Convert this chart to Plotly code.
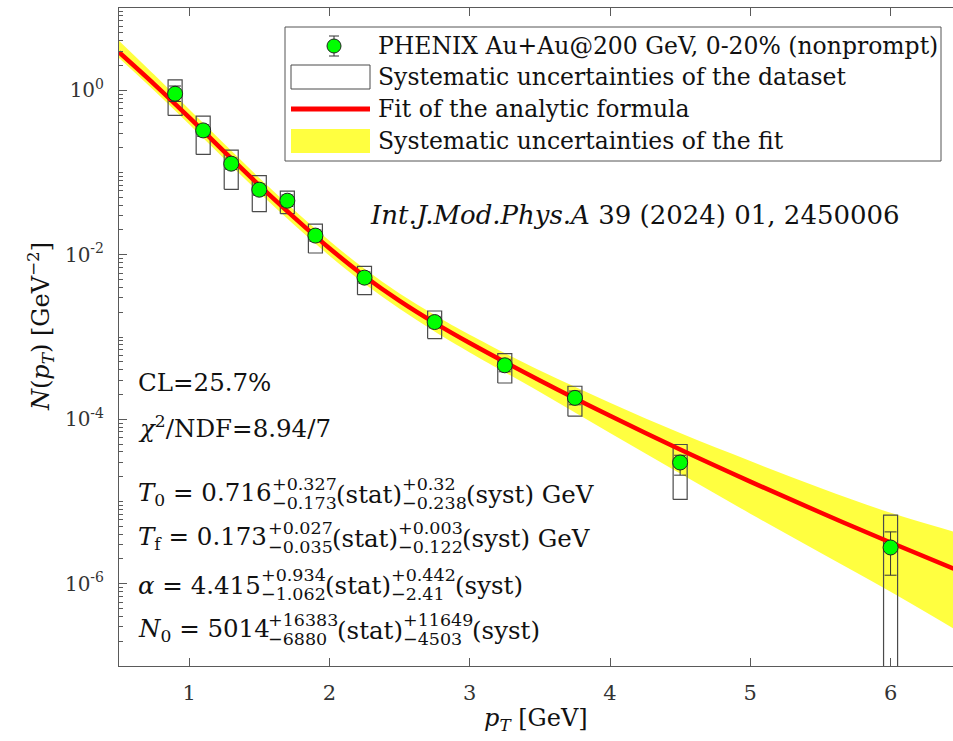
import plotly.graph_objects as go

# ---------------- data ----------------
pt = [0.9, 1.1, 1.3, 1.5, 1.7, 1.9, 2.25, 2.75, 3.25, 3.75, 4.5, 6.0]
yield_vals = [0.907, 0.325, 0.128, 0.0618, 0.0454, 0.0171, 5.27e-3, 1.52e-3,
              4.53e-4, 1.82e-4, 2.98e-5, 2.76e-6]
stat_hi = [1.126, 0.38, 0.150, 0.0725, 0.0532, 0.0200, 6.18e-3, 1.78e-3,
           5.35e-4, 2.2e-4, 3.65e-5, 4.27e-6]
stat_lo = [0.731, 0.275, 0.109, 0.0526, 0.0386, 0.01455, 4.48e-3, 1.29e-3,
           3.78e-4, 1.5e-4, 2.09e-5, 1.27e-6]
syst_hi = [1.34, 0.484, 0.187, 0.0914, 0.0594, 0.0236, 7.23e-3, 2.07e-3,
           6.28e-4, 2.52e-4, 4.93e-5, 6.82e-6]
syst_lo = [0.494, 0.166, 0.0624, 0.0334, 0.0316, 0.0105, 3.27e-3, 9.57e-4,
           2.76e-4, 1.09e-4, 1.06e-5, 1e-8]

fit_pt = [0.5, 0.75, 1.0, 1.25, 1.5, 1.75, 2.0, 2.25, 2.5, 2.75, 3.0, 3.5,
          4.0, 4.5, 5.0, 5.5, 6.0, 6.45]
fit_val = [2.904, 1.190, 0.4683, 0.1796, 0.06985, 0.02829, 0.01200, 5.485e-3,
           2.749e-3, 1.485e-3, 8.446e-4, 2.962e-4, 1.101e-4, 4.282e-5,
           1.744e-5, 7.340e-6, 3.177e-6, 1.528e-6]
fit_hi = [4.009, 1.551, 0.5895, 0.2234, 0.0859, 0.03480, 0.01476, 6.748e-3,
          3.382e-3, 1.848e-3, 1.063e-3, 3.905e-4, 1.591e-4, 6.786e-5,
          3.102e-5, 1.464e-5, 7.280e-6, 4.305e-6]
fit_lo = [2.472, 0.9943, 0.3868, 0.1466, 0.05678, 0.02300, 9.754e-3, 4.437e-3,
          2.199e-3, 1.166e-3, 6.480e-4, 2.146e-4, 6.786e-5, 2.196e-5,
          7.105e-6, 2.375e-6, 7.981e-7, 2.844e-7]

x_ticks = [1, 2, 3, 4, 5, 6]
y_major = [1e-6, 1e-4, 1e-2, 1e0]
y_major_text = ["10<sup>-6</sup>", "10<sup>-4</sup>", "10<sup>-2</sup>",
                "10<sup>0</sup>"]

legend_labels = ["PHENIX Au+Au@200 GeV, 0-20% (nonprompt)",
                 "Systematic uncertainties of the dataset",
                 "Fit of the analytic formula",
                 "Systematic uncertainties of the fit"]

# ---------------- geometry / style ----------------
W, H = 953, 741
L, R, T, B = 119, 953, 8, 666
SERIF = "DejaVu Serif"
BOX_HW = 0.05
AX = "#5a5a5a"
YELLOW = "rgb(255,255,64)"


def px(x):
    return (x - L) / (R - L)


def py(y):
    return (B - y) / (B - T)


fig = go.Figure()

# systematic band of the fit
fig.add_trace(go.Scatter(x=fit_pt, y=fit_lo, mode="lines",
                         line=dict(width=0, shape="spline"),
                         hoverinfo="skip", showlegend=False))
fig.add_trace(go.Scatter(x=fit_pt, y=fit_hi, mode="lines", fill="tonexty",
                         fillcolor=YELLOW,
                         line=dict(width=0, shape="spline"),
                         hoverinfo="skip", showlegend=False))

# systematic boxes of the data
bx, by = [], []
for x, lo, hi in zip(pt, syst_lo, syst_hi):
    bx += [x - BOX_HW, x + BOX_HW, x + BOX_HW, x - BOX_HW, x - BOX_HW, None]
    by += [lo, lo, hi, hi, lo, None]
fig.add_trace(go.Scatter(x=bx, y=by, mode="lines",
                         line=dict(color="#4a4a4a", width=1.2),
                         hoverinfo="skip", showlegend=False))

# fit line
fig.add_trace(go.Scatter(x=fit_pt, y=fit_val, mode="lines",
                         line=dict(color="rgb(255,0,0)", width=4.5,
                                   shape="spline"),
                         showlegend=False))

# data points with statistical errors
fig.add_trace(go.Scatter(
    x=pt, y=yield_vals, mode="markers",
    marker=dict(size=15, color="rgb(0,255,0)",
                line=dict(color="#222", width=1)),
    error_y=dict(type="data", symmetric=False,
                 array=[h - v for h, v in zip(stat_hi, yield_vals)],
                 arrayminus=[v - l for v, l in zip(yield_vals, stat_lo)],
                 color="#333", thickness=1, width=6),
    showlegend=False))

# ---------------- manual legend ----------------
shapes = []
shapes.append(dict(type="rect", xref="paper", yref="paper",
                   x0=px(285), x1=px(941), y0=py(161), y1=py(27),
                   line=dict(color="#555", width=1), fillcolor="white",
                   layer="above"))
rows = [46, 77, 109, 141]
cx = 334
shapes.append(dict(type="line", xref="paper", yref="paper",
                   x0=px(cx), x1=px(cx), y0=py(rows[0] + 10), y1=py(rows[0] - 10),
                   line=dict(color="#333", width=1), layer="above"))
for yy in (rows[0] - 10, rows[0] + 10):
    shapes.append(dict(type="line", xref="paper", yref="paper",
                       x0=px(cx - 5), x1=px(cx + 5), y0=py(yy), y1=py(yy),
                       line=dict(color="#333", width=1), layer="above"))
shapes.append(dict(type="circle", xref="paper", yref="paper",
                   x0=px(cx - 7), x1=px(cx + 7), y0=py(rows[0] + 7),
                   y1=py(rows[0] - 7), fillcolor="rgb(0,255,0)",
                   line=dict(color="#222", width=1), layer="above"))
shapes.append(dict(type="rect", xref="paper", yref="paper",
                   x0=px(291), x1=px(370), y0=py(rows[1] + 12), y1=py(rows[1] - 12),
                   line=dict(color="#4a4a4a", width=1), fillcolor="white",
                   layer="above"))
shapes.append(dict(type="line", xref="paper", yref="paper",
                   x0=px(291), x1=px(370), y0=py(rows[2]), y1=py(rows[2]),
                   line=dict(color="rgb(255,0,0)", width=5), layer="above"))
shapes.append(dict(type="rect", xref="paper", yref="paper",
                   x0=px(291), x1=px(370), y0=py(rows[3] + 12), y1=py(rows[3] - 12),
                   line=dict(width=0), fillcolor=YELLOW, layer="above"))

annotations = []


def txt(x, y, s, size, anchor="left", **kw):
    annotations.append(dict(x=px(x), y=py(y), xref="paper", yref="paper",
                            text=s, showarrow=False, xanchor=anchor,
                            yanchor="middle",
                            font=dict(family=SERIF, size=size, color="#111"),
                            **kw))


for yy, lab in zip(rows, legend_labels):
    txt(376, yy, lab, 23.5)

# citation
txt(635, 215, "<i>Int.J.Mod.Phys.A</i> 39 (2024) 01, 2450006", 26,
    anchor="center")

# fit statistics
MS, SS = 24.5, 17.5
txt(136, 382, "CL=25.7%", MS)
txt(136, 427, "<i>χ</i><sup>2</sup>/NDF=8.94/7", MS)

param_lines = [
    (494, "<i>T</i><sub>0</sub> = 0.716", "+0.327", "−0.173", "+0.32", "−0.238",
     " GeV", (136, 270, 334, 400, 464, 532)),
    (538, "<i>T</i><sub>f</sub> = 0.173", "+0.027", "−0.035", "+0.003", "−0.122",
     " GeV", (136, 266, 330, 396, 460, 528)),
    (585, "<i>α</i> = 4.415", "+0.934", "−1.062", "+0.442", "−2.41",
     "", (136, 259, 323, 389, 453, 521)),
    (630, "<i>N</i><sub>0</sub> = 5014", "+16383", "−6880", "+11649", "−4503",
     "", (136, 266, 335, 401, 470, 538)),
]
for (yy, main, s1, b1, s2, b2, tail, xs) in param_lines:
    txt(xs[0], yy, main, MS)
    txt(xs[1], yy - 10, s1, SS)
    txt(xs[1], yy + 9, b1, SS)
    txt(xs[2], yy, "(stat)", MS)
    txt(xs[3], yy - 10, s2, SS)
    txt(xs[3], yy + 9, b2, SS)
    txt(xs[4], yy, "(syst)" + tail, MS)

# axis titles
txt(40, 327, "<i>N</i>(<i>p</i><sub><i>T</i></sub>) [GeV<sup>−2</sup>]", 24,
    anchor="center", textangle=-90)
txt(536, 719, "<i>p</i><sub><i>T</i></sub> [GeV]", 24, anchor="center")

minor_vals = [m * 10.0 ** e for e in range(-7, 1) for m in range(2, 10)]
minor_vals += [1e-7, 1e-5, 1e-3, 1e-1, 1e1]

fig.update_layout(
    width=W, height=H, autosize=False,
    margin=dict(l=L, r=W - R, t=T, b=H - B, pad=0),
    paper_bgcolor="white", plot_bgcolor="white",
    showlegend=False,
    font=dict(family=SERIF, color="#222"),
    xaxis=dict(range=[0.5, 6.445], showline=True, linecolor=AX, linewidth=1,
               mirror="ticks", ticks="inside", ticklen=8, tickcolor=AX,
               tickvals=x_ticks, ticktext=[str(v) for v in x_ticks],
               tickfont=dict(family=SERIF, size=21, color="#333"),
               ticklabelstandoff=8,
               showgrid=False, zeroline=False, automargin=False),
    yaxis=dict(type="log", range=[-7, 1], showline=True, linecolor=AX,
               linewidth=1, mirror=False, ticks="inside", ticklen=8,
               tickcolor=AX, tickvals=y_major, ticktext=y_major_text,
               tickfont=dict(family=SERIF, size=20, color="#333"),
               ticklabelstandoff=10,
               minor=dict(ticks="inside", ticklen=4, tickcolor=AX,
                          tickvals=minor_vals, showgrid=False),
               showgrid=False, zeroline=False, automargin=False),
    shapes=shapes,
    annotations=annotations,
)

fig.write_html(
    "out.html",
    config={"displayModeBar": False},
    post_script="document.body.style.margin='0';"
                "document.body.style.overflow='hidden';",
)
